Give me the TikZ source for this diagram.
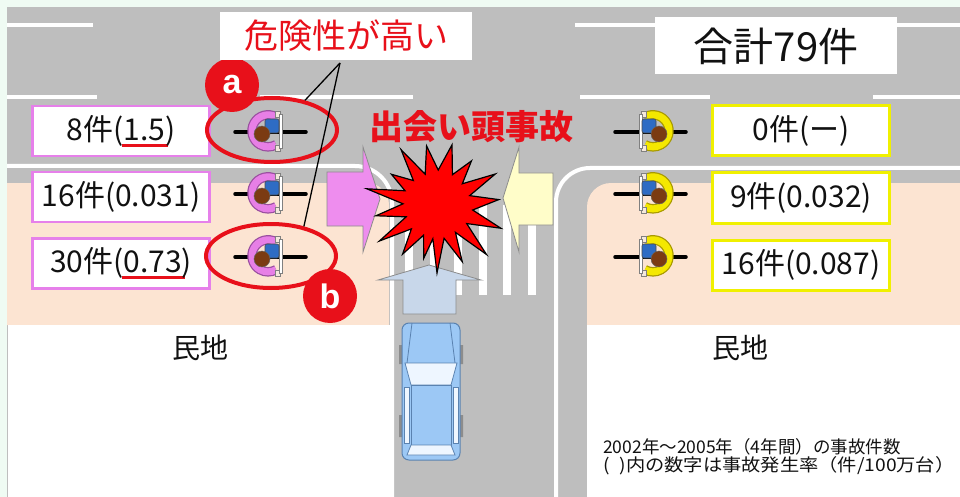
\documentclass[tikz,border=0pt]{standalone}
\usepackage{fontspec}
\setmainfont{Noto Sans CJK JP}
\newfontfamily\badgefont{Liberation Sans}
\usetikzlibrary{positioning,shapes.geometric}
\definecolor{crossMint}{HTML}{EFFBF3}
\definecolor{crossRoad}{HTML}{BEBEBE}
\definecolor{crossPeach}{HTML}{FCE4D2}
\definecolor{crossRed}{HTML}{E8101A}
\definecolor{crossInk}{HTML}{111111}
\definecolor{boxPink}{HTML}{E680EA}
\definecolor{boxYellow}{HTML}{F0F000}
\definecolor{riderPink}{HTML}{E77FE6}
\definecolor{riderPinkEdge}{HTML}{9A4FA0}
\definecolor{riderYellow}{HTML}{F4E800}
\definecolor{riderYellowEdge}{HTML}{A89A00}
\definecolor{riderShirt}{HTML}{2E6CC4}
\definecolor{riderHead}{HTML}{7B3B12}
\definecolor{riderHand}{HTML}{F4E8DC}
\definecolor{arrowPink}{HTML}{EE8DEE}
\definecolor{arrowYellow}{HTML}{FFFDC9}
\definecolor{arrowBlue}{HTML}{C8D7EA}
\definecolor{carBlue}{HTML}{9CC8F5}
\definecolor{carEdge}{HTML}{5A82B0}
\definecolor{carGlass}{HTML}{EEF6FF}
\newcommand{\redline}[1]{\setbox0\hbox{#1}\leavevmode\rlap{\kern-2pt\raisebox{-6pt}{\textcolor{crossRed}{\rule{\dimexpr\wd0+5pt\relax}{3pt}}}}\box0}
\tikzset{
  every picture/.style={text=crossInk},
  count box/.style={fill=white, line width=2.2pt, minimum width=177pt,
    minimum height=50pt, inner sep=0pt, font=\fontsize{30}{32}\selectfont},
  left count/.style={count box, draw=boxPink},
  right count/.style={count box, draw=boxYellow, line width=3pt},
  lane/.style={draw=white, line width=4pt},
  ring/.style={ellipse, draw=crossRed, line width=4pt, minimum width=130pt,
    minimum height=64pt, inner sep=0pt},
  badge/.style={circle, fill=crossRed, minimum size=54pt, inner sep=0pt,
    text=white, font=\badgefont\bfseries\fontsize{34}{34}\selectfont},
  block arrow/.style={draw=black!45, line width=0.8pt},
  pointer/.style={draw=black, line width=1.3pt},
  coat/.store in=\ridercoat, coat edge/.store in=\ridercoatedge,
  coat=riderPink, coat edge=riderPinkEdge,
  rider/.pic={
    \draw[line width=3.5pt, line cap=round] (-36,1) -- (35,1);
    \draw[draw=\ridercoatedge, line width=9.5pt] (5,-14) arc[start angle=-60, end angle=-300, radius=16];
    \draw[draw=\ridercoat, line width=7pt] (5,-14) arc[start angle=-60, end angle=-300, radius=16];
    \filldraw[draw=black!50, fill=riderHand, line width=0.5pt] (4,-20) rectangle (9,-14) (4,14) rectangle (9,20);
    \filldraw[draw=black!50, fill=white, line width=0.6pt] (8,-17) rectangle (11,17);
    \filldraw[draw=black!70, fill=riderShirt, line width=0.6pt, rounded corners=2pt] (-6,-12) rectangle (8,2);
    \filldraw[draw=black!60, fill=riderHead, line width=0.5pt] (-9,3) circle[radius=8];
  }
}

\begin{document}
\begin{tikzpicture}[x=1pt,y=-1pt]
  \useasboundingbox (0,0) rectangle (960,497);
  % ground
  \fill[crossMint] (0,0) rectangle (960,497);
  \fill[crossRoad] (7,7) rectangle (960,497);
  \fill[crossPeach] (7,183) -- (367,183) arc[start angle=-90, end angle=0, radius=22]
    -- (389,325) -- (7,325) -- cycle;
  \fill[white] (8,325) rectangle (390,497);
  \fill[crossPeach] (587,207) arc[start angle=180, end angle=270, radius=24]
    -- (960,183) -- (960,325) -- (587,325) -- cycle;
  \fill[white] (587,325) rectangle (960,497);

  % road markings
  \foreach \a/\b in {7/93, 258/410, 575/720, 885/960}
    \draw[lane] (\a,25) -- (\b,25);
  \foreach \a/\b in {7/97, 260/413, 580/710, 873/960}
    \draw[lane] (\a,97) -- (\b,97);
  \draw[lane] (7,166) -- (355,166) arc[start angle=-90, end angle=0, radius=37] -- (392,497);
  \draw[lane] (960,168) -- (590,168) arc[start angle=-90, end angle=-180, radius=34] -- (556,497);
  \foreach \sx in {0,...,5}
    \fill[white] ({405+24.6*\sx},205) rectangle ++(8,90);

  % counts per approach
  \node[left count] (leftTop) at (121,131) {8件(\redline{1.5})};
  \node[left count, below=14pt of leftTop] (leftMid) {16件(0.031)};
  \node[left count, below=14pt of leftMid] (leftLow) {30件(\redline{0.73})};
  \node[right count] (rightTop) at (801,131) {0件(ー)};
  \node[right count, below=14pt of rightTop] (rightMid) {9件(0.032)};
  \node[right count, below=14pt of rightMid] (rightLow) {16件(0.087)};

  % bicycles
  \foreach \ry in {131,193,256}
    \pic at (271,\ry) {rider};
  \foreach \ry in {131,193,256}
    \pic[xscale=-1, coat=riderYellow, coat edge=riderYellowEdge] at (650,\ry) {rider};

  % direction arrows
  \filldraw[block arrow, fill=arrowPink] (327,172) -- (363,172) -- (363,147) -- (380,199)
    -- (363,252) -- (363,226) -- (327,226) -- cycle;
  \filldraw[block arrow, fill=arrowYellow] (553,173) -- (519,173) -- (519,147) -- (503,198)
    -- (519,252) -- (519,225) -- (553,225) -- cycle;
  \filldraw[block arrow, fill=arrowBlue] (403,314) -- (403,280) -- (378,280) -- (429,265)
    -- (481,280) -- (456,280) -- (456,314) -- cycle;

  % collision burst
  \filldraw[fill=red, draw=black, line width=1.2pt, shift={(437,205)}] (90:68)
    \foreach \a/\r in {78/34, 66/62, 56/33, 45/70, 32/35, 20/68, 8/36, -5/62, -16/34,
      -28/66, -40/33, -52/56, -63/34, -76/62, -88/35, -100/60, -111/33, -123/66,
      -134/34, -146/55, -156/35, -167/72, -178/34, 170/62, 159/33, 148/68, 137/35,
      125/60, 114/33, 104/55, 97/34} { -- (\a:\r) } -- cycle;

  % car
  \begin{scope}[shift={(431,391)}]
    \fill[black!45] (-32,-46) rectangle (-28,-27) (-32,24) rectangle (-28,46)
      (28,-46) rectangle (32,-27) (28,24) rectangle (32,46);
    \filldraw[fill=carBlue, draw=carEdge, line width=1pt, rounded corners=7pt] (-29,-68) rectangle (29,69);
    \draw[carEdge, line width=0.8pt] (-19,-68) -- (-24,-28) (19,-68) -- (24,-28);
    \filldraw[fill=carGlass, draw=carEdge, line width=0.8pt] (-27,-4) rectangle (-22,52) (22,-4) rectangle (27,52);
    \filldraw[fill=carGlass, draw=carEdge, line width=0.8pt] (-26,-28) -- (26,-28) -- (20,-6) -- (-20,-6) -- cycle;
    \filldraw[fill=carBlue, draw=carEdge, line width=0.8pt] (-20,-6) rectangle (20,54);
    \filldraw[fill=carGlass, draw=carEdge, line width=0.8pt] (-20,54) -- (20,54) -- (24,64) -- (-24,64) -- cycle;
  \end{scope}

  % high risk marks
  \node[ring] (ringA) at (272,130) {};
  \node[ring] (ringB) at (271,256) {};
  \node[badge] (badgeA) at (232,85) {a};
  \node[badge] (badgeB) at (330,296) {b};
  \node[fill=white, minimum width=252pt, minimum height=48pt, inner sep=0pt,
    text=crossRed, font=\fontsize{34}{36}\selectfont] (danger) at (346,36) {危険性が高い};
  \coordinate (fork) at (340,63);
  \draw[pointer] (fork) -- (ringA.42);
  \draw[pointer] (fork) -- (ringB.42);

  % titles and notes
  \node[text=crossRed, font=\bfseries\fontsize{34}{36}\selectfont] (crash) at (471,127) {出会い頭事故};
  \node[fill=white, minimum width=242pt, minimum height=57pt, inner sep=0pt,
    font=\fontsize{40}{42}\selectfont] (total) at (776,46) {合計79件};
  \node[font=\fontsize{28}{30}\selectfont] (landL) at (200,348) {民地};
  \node[font=\fontsize{28}{30}\selectfont] (landR) at (740,348) {民地};
  \node[anchor=west, align=left, inner sep=0pt, font=\fontsize{17.5}{18}\selectfont] (note) at (603,457)
    {2002年～2005年（4年間）の事故件数\\\scalebox{1.1}[1]{(\kern9pt)内の数字は事故発生率（件/100万台）}};
\end{tikzpicture}
\end{document}
